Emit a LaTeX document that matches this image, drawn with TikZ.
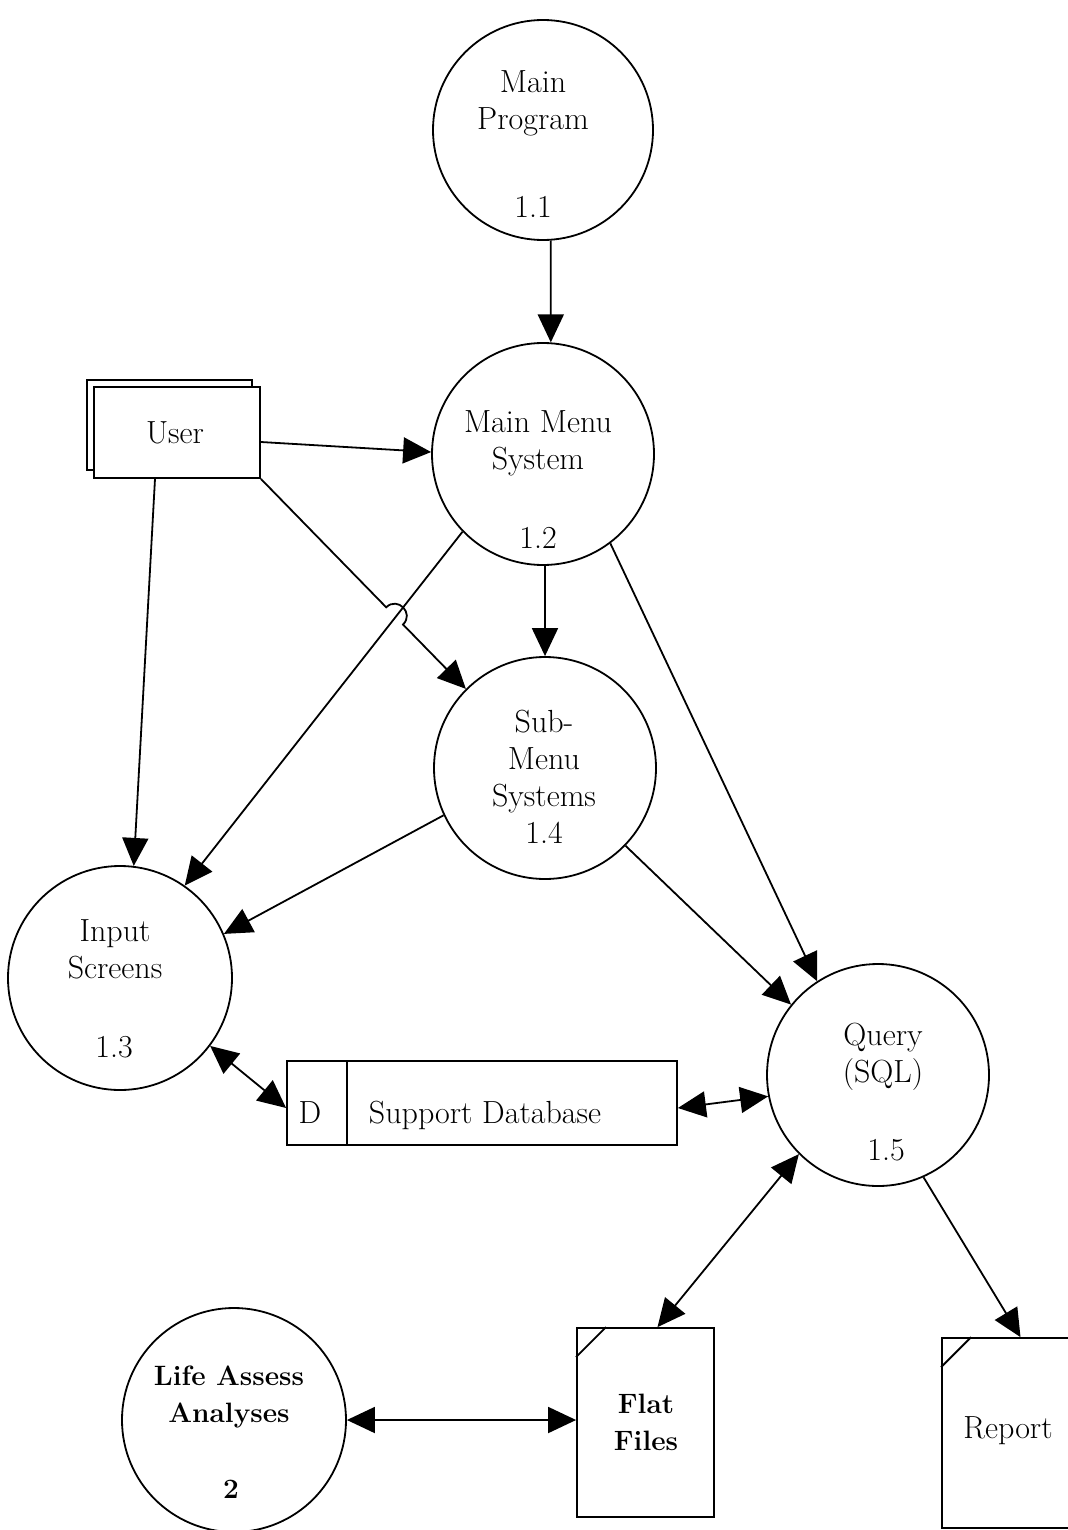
\documentclass[tikz,border=0pt]{standalone}
\usetikzlibrary{arrows.meta,calc}
\begin{document}
\begin{tikzpicture}[x=0.5pt,y=-0.5pt,
  proc/.style={circle,draw,line width=0.9pt,inner sep=0pt},
  lbl/.style={font=\fontsize{16}{18.5}\selectfont,align=center,anchor=base,inner sep=0pt},
  blbl/.style={lbl,font=\fontsize{14}{18.5}\selectfont\bfseries},
  flow/.style={line width=0.9pt,-{Triangle[length=14pt,width=13pt]}},
  bflow/.style={line width=0.9pt,{Triangle[length=14pt,width=13pt]}-{Triangle[length=14pt,width=13pt]}},
  box/.style={draw,line width=0.9pt,fill=white,inner sep=0pt}]
\useasboundingbox (0,0) rectangle (1068,1530);
\clip (0,0) rectangle (1068,1530);

% processes
\node[proc,minimum size=110pt] (c11) at (543,130) {};
\node[proc,minimum size=111pt] (c12) at (543,454) {};
\node[proc,minimum size=111pt] (c14) at (545,768) {};
\node[proc,minimum size=112pt] (c13) at (120,978) {};
\node[proc,minimum size=111pt] (c15) at (878,1075) {};
\node[proc,minimum size=112pt] (c2) at (234,1420) {};

% labels (base anchor = baseline of last line)
\node[lbl] (t11) at (533,130) {Main\\Program};
\node[lbl] (n11) at (533,218) {1.1};
\node[lbl] (t12) at (538,469) {Main Menu\\System};
\node[lbl] (n12) at (538,548) {1.2};
\node[lbl] (t14) at (544,843) {Sub-\\Menu\\Systems\\1.4};
\node[lbl] (t13) at (115,978) {Input\\Screens};
\node[lbl] (n13) at (114,1057) {1.3};
\node[lbl] (t15) at (883,1082) {Query\\(SQL)};
\node[lbl] (n15) at (886,1160) {1.5};
\node[blbl] (t2) at (229,1422) {Life Assess\\Analyses};
\node[blbl] (n2) at (231,1498) {2};

% external entity
\node[box,minimum width=82.5pt,minimum height=45pt] (userback) at (169.5,425) {};
\node[box,minimum width=83pt,minimum height=45.5pt] (user) at (177,432.5) {};
\node[lbl] (tuser) at (175,443) {User};

% data store
\node[box,minimum width=195pt,minimum height=42pt] (db) at (482,1103) {};
\draw[line width=0.9pt] ([xshift=30.5pt]db.north west) -- ([xshift=30.5pt]db.south west);
\node[lbl] (tD) at (310,1123) {D};
\node[lbl] (tdb) at (485,1123) {Support Database};

% documents
\node[box,minimum width=68.5pt,minimum height=94.5pt] (flat) at (645.5,1422.5) {};
\draw[line width=0.9pt] ([yshift=-15pt]flat.north west) -- ([xshift=15pt]flat.north west);
\node[blbl] (tflat) at (646,1450) {Flat\\Files};
\node[box,minimum width=66.5pt,minimum height=95pt] (report) at (1008.5,1433) {};
\draw[line width=0.9pt] ([yshift=-15pt]report.north west) -- ([xshift=15pt]report.north west);
\node[lbl] (treport) at (1008,1438) {Report};

% connectors
\coordinate (h1) at (386.2,607.3);
\coordinate (h2) at (403.0,624.5);
\draw[flow] (c11.-86.4) -- (c12.86.4);
\draw[flow] ([yshift=-4.75pt]user.east) -- (c12.179);
\draw[flow] (user.south east) -- (h1) .. controls (397.7,596.1) and (414.5,613.3) .. (h2) -- (c14.135);
\draw[flow] ([xshift=-11pt]user.south) -- (c13.83.4);
\draw[flow] (c12.224) -- (c13.55);
\draw[flow] (c12.-89) -- (c14.90);
\draw[flow] (c12.-53.3) -- (c15.123.3);
\draw[flow] (c14.205.7) -- (c13.23.6);
\draw[flow] (c14.-44) -- (c15.141.3);
\draw[bflow] (c13.-37.7) -- ([yshift=-2.5pt]db.west);
\draw[bflow] ([yshift=-2.5pt]db.east) -- (c15.191.5);
\draw[bflow] (c15.225.7) -- ([xshift=6pt]flat.north);
\draw[flow] (c15.-66.4) -- ([xshift=6pt]report.north);
\draw[bflow] (c2.east) -- (c2.east -| flat.west);
\end{tikzpicture}
\end{document}
